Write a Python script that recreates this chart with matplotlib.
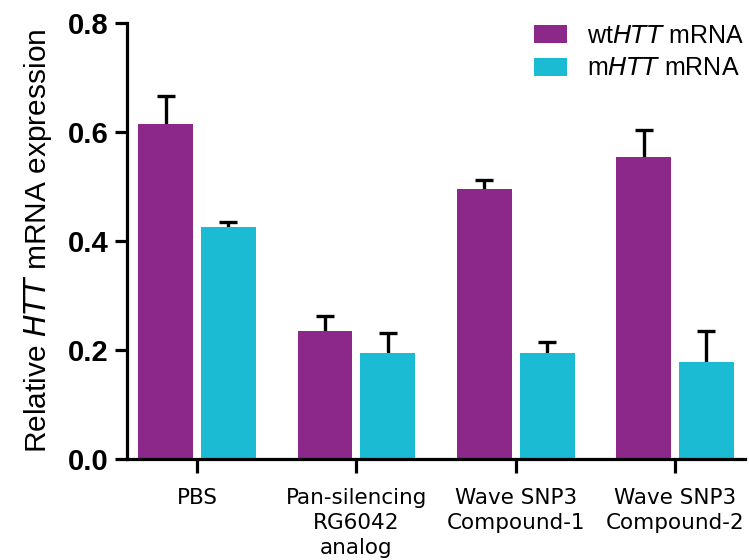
import matplotlib
matplotlib.use("Agg")
import matplotlib.pyplot as plt
import numpy as np

categories = ["PBS", "Pan-silencing\nRG6042\nanalog", "Wave SNP3\nCompound-1", "Wave SNP3\nCompound-2"]
wt_values = [0.615, 0.235, 0.495, 0.554]
wt_errors = [0.051, 0.027, 0.017, 0.050]
m_values = [0.426, 0.194, 0.194, 0.178]
m_errors = [0.009, 0.037, 0.021, 0.057]
yticks = [0.0, 0.2, 0.4, 0.6, 0.8]
series_labels = ["wt$\\it{HTT}$ mRNA", "m$\\it{HTT}$ mRNA"]

purple = "#8B2889"
cyan = "#1CBBD4"

fig = plt.figure(figsize=(7.49, 5.60), dpi=100)
ax = fig.add_axes([0.1696, 0.1804, 0.8251, 0.7785])

x = np.arange(len(categories))
w = 0.345
off = 0.197
ax.bar(x - off, wt_values, w, color=purple, label=series_labels[0], zorder=2)
ax.bar(x + off, m_values, w, color=cyan, label=series_labels[1], zorder=2)

for xs, vals, errs in [(x - off, wt_values, wt_errors), (x + off, m_values, m_errors)]:
    _, caps, _ = ax.errorbar(xs, vals, yerr=[np.zeros(len(vals)), errs], fmt="none",
                             ecolor="black", elinewidth=2.4, capthick=2.4,
                             capsize=6.8, zorder=1)
    caps[0].set_visible(False)

ax.set_xlim(-0.44, 3.44)
ax.set_ylim(0, 0.8)
ax.set_yticks(yticks)
ax.set_yticklabels([f"{v:.1f}" for v in yticks], fontsize=21,
                   fontweight="bold", family="Liberation Sans")
ax.set_xticks(x)
ax.set_xticklabels(categories, fontsize=15.5, family="DejaVu Sans", linespacing=1.3)

for s in ["top", "right"]:
    ax.spines[s].set_visible(False)
for s in ["left", "bottom"]:
    ax.spines[s].set_linewidth(2.3)
ax.tick_params(axis="y", length=9, width=2.3, pad=4)
ax.tick_params(axis="x", length=10, width=2.3, pad=11)

ax.set_ylabel("Relative $\\it{HTT}$ mRNA expression", fontsize=21.5,
              family="Liberation Sans")
ax.yaxis.set_label_coords(-0.118, 0.5)

leg = ax.legend(loc="upper right", bbox_to_anchor=(1.035, 1.05), frameon=False,
                prop={"family": "Liberation Sans", "size": 18},
                handlelength=1.35, handleheight=0.75, handletextpad=0.8,
                labelspacing=0.35)

fig.savefig("out.png", dpi=100)
